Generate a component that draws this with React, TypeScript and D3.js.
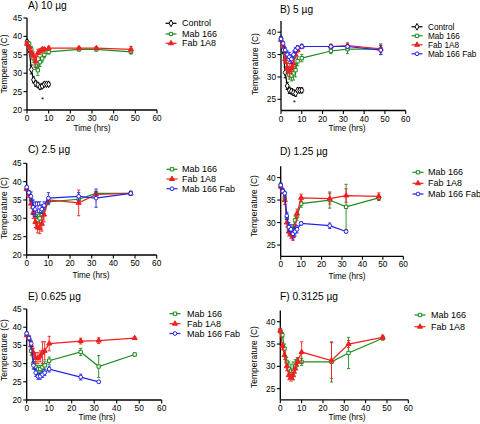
import React from 'react';
import * as d3 from 'd3';

// ---------- data ----------
const times = [0, 1, 2, 3, 4, 5, 6, 7, 8, 10, 24, 32, 48];
const timesTo32 = [0, 1, 2, 3, 4, 5, 6, 7, 8, 10, 24, 32];
const controlTimes = [0, 1, 2, 3, 4, 5, 6, 7, 8, 9, 10];
const xTicks = [0, 10, 20, 30, 40, 50, 60];
const yTicksWide = [20, 25, 30, 35, 40, 45];
const yTicksNarrow = [25, 30, 35, 40];
const panelTitles = ['A) 10 µg', 'B) 5 µg', 'C) 2.5 µg', 'D) 1.25 µg', 'E) 0.625 µg', 'F) 0.3125 µg'];
const seriesNames = ['Control', 'Mab 166', 'Fab 1A8', 'Mab 166 Fab'];

// Panel A
const aControl = [38.5, 36.5, 31, 28.2, 27.2, 26.8, 26.3, 26.5, 27, 27, 27];
const aControlErr = [0.5, 0.8, 1.2, 0.8, 0.7, 0.6, 0.6, 0.5, 0.5, 0.5, 0.5];
const aMab = [38.2, 38, 36.5, 34, 32, 30.8, 33, 34, 35, 35.8, 36.5, 36.5, 35.8];
const aMabErr = [0.4, 0.5, 0.8, 1, 1, 1.4, 1.2, 1, 0.8, 0.6, 0.5, 0.5, 0.6];
const aFab = [38, 37, 35.5, 34.8, 33.2, 35.5, 36, 36.5, 36.5, 36.8, 36.8, 36.8, 36.5];
const aFabErr = [0.4, 0.5, 0.8, 1, 1.5, 1, 0.6, 0.5, 0.5, 0.5, 0.4, 0.4, 0.8];
const aStar = [7.2, 23];

// Panel B
const bControl = [38.5, 36, 31, 28, 27, 26.8, 26.5, 26.3, 27, 27, 27];
const bControlErr = [0.5, 0.8, 1.2, 0.8, 0.7, 0.6, 0.6, 0.6, 0.5, 0.5, 0.5];
const bMab = [38.5, 37, 35, 32, 30.5, 30.3, 30.8, 31.5, 33.5, 34.2, 35.8, 36.2, 36.2];
const bMabErr = [0.4, 0.5, 0.8, 1, 1, 1.2, 1.5, 1.5, 1, 0.8, 0.6, 1, 1.2];
const bFab = [38.3, 37, 34, 32, 31.5, 32, 33, 35, 36, 36.8, 36.8, 37, 36.3];
const bFabErr = [0.4, 0.5, 1, 1.2, 1.5, 1.2, 1, 0.8, 0.6, 0.5, 0.5, 0.6, 0.8];
const bMabFab = [38.5, 37.5, 36, 35, 34.5, 34, 35, 36, 36.5, 36.8, 36.8, 36.8, 36];
const bMabFabErr = [0.4, 0.4, 0.6, 0.8, 1, 1, 0.8, 0.6, 0.5, 0.4, 0.4, 0.5, 1];
const bStar = [6.4, 24.5];

// Panel C
const cMab = [38, 37, 35, 33, 30.5, 29.5, 30, 31, 32.5, 34.5, 35.2, 36.8, 36.8];
const cMabErr = [0.5, 0.5, 1, 1.2, 1.5, 1.5, 1.5, 1.5, 1.2, 0.8, 0.8, 0.6, 0.6];
const cFab = [38, 36.5, 34, 31.5, 29, 27.5, 27.3, 28.5, 31, 35, 34.2, 36.5, 36.8];
const cFabErr = [0.5, 0.8, 1.2, 1.5, 1.5, 1.5, 1.5, 2, 2, 0.8, 3.5, 0.8, 0.5];
const cMabFab = [38.5, 37, 36, 33, 32.5, 33, 33, 32.5, 33.5, 35.5, 36, 35.5, 36.8];
const cMabFabErr = [0.5, 0.5, 1.2, 2, 2, 1.5, 1.5, 1.2, 1, 1.5, 1, 2.5, 0.5];

// Panel D
const dMab = [38.3, 37, 35.5, 31, 28.5, 28, 28.5, 30.5, 31.5, 34.2, 35, 33.5, 35.5];
const dMabErr = [0.5, 0.5, 0.8, 1, 1, 1, 1, 1, 1, 0.8, 1.8, 5, 0.6];
const dFab = [38, 37, 35, 30, 28, 27.5, 27, 28.5, 32, 35.5, 35.3, 36, 35.8];
const dFabErr = [0.5, 0.5, 1, 1, 1, 1, 1, 1, 1, 0.8, 1.2, 1.5, 0.8];
const dMabFab = [38.3, 37, 36.5, 31.5, 29, 28.5, 27.5, 28, 28.5, 29.8, 29.3, 28];
const dMabFabErr = [0.5, 0.5, 0.5, 0.8, 1, 1, 1.2, 1, 0.8, 0.4, 0.6, 0.3];

// Panel E
const eMab = [38, 37, 33.5, 30, 29, 28.5, 28.5, 29, 29.5, 30.8, 33.2, 29.2, 32.5];
const eMabErr = [0.5, 0.8, 1.2, 1.5, 1.5, 1, 1, 1, 1, 1, 1, 3, 0.4];
const eFab = [37.8, 37, 35, 33, 31.5, 31.5, 32, 33, 33.5, 35.5, 36.2, 36.3, 37];
const eFabErr = [0.4, 0.6, 1, 1.2, 1.5, 1.5, 1.5, 3, 2.5, 2, 0.8, 0.8, 0.3];
const eMabFab = [38.3, 37, 35.5, 29.5, 27.5, 26.5, 26.5, 27, 27.5, 28.5, 26.3, 25];
const eMabFabErr = [0.5, 0.5, 0.8, 1, 1, 0.8, 0.8, 0.8, 0.8, 0.8, 0.8, 0.3];

// Panel F
const fMab = [38, 37, 34, 31, 29.5, 29, 29, 30, 31, 31, 31, 33, 36.3];
const fMabErr = [0.5, 0.6, 1, 1, 1.5, 1.5, 2, 1.5, 1, 0.8, 4.5, 3.5, 0.4];
const fFab = [38, 34.5, 32.5, 30, 28, 27.5, 28, 29.5, 31, 33.2, 31.3, 35, 36.5];
const fFabErr = [0.5, 0.8, 1, 1, 1, 0.8, 1, 1, 0.8, 2.3, 4, 0.8, 0.5];

// ---------- styles ----------
const FONT = '"Liberation Sans", Arial, Helvetica, sans-serif';
const styleByName: Record<string, { color: string; shape: any; fill: string; size: number }> = {
  'Control': { color: '#000000', shape: d3.symbolDiamond, fill: '#ffffff', size: 13 },
  'Mab 166': { color: '#1c8a1c', shape: d3.symbolSquare, fill: '#ffffff', size: 11 },
  'Fab 1A8': { color: '#f02020', shape: d3.symbolTriangle, fill: '#f02020', size: 11 },
  'Mab 166 Fab': { color: '#2424e6', shape: d3.symbolCircle, fill: '#ffffff', size: 11 },
};

type Series = { name: string; t: number[]; v: number[]; e: number[] };
type PanelCfg = {
  title: string;
  series: Series[];
  xr: [number, number];
  yd: [number, number];
  yr: [number, number];
  yTicks: number[];
  titleXY: [number, number];
  yTitle: string;
  yTitleXY: [number, number];
  xTitleXY: [number, number];
  legX: number;
  legTX: number;
  legYs: number[];
  legFont: number;
  star?: number[];
};

const panels: PanelCfg[] = [
  {
    title: panelTitles[0],
    series: [
      { name: seriesNames[0], t: controlTimes, v: aControl, e: aControlErr },
      { name: seriesNames[1], t: times, v: aMab, e: aMabErr },
      { name: seriesNames[2], t: times, v: aFab, e: aFabErr },
    ],
    xr: [27, 157], yd: [20, 45], yr: [110, 18], yTicks: yTicksWide,
    titleXY: [28, 9], yTitle: 'Temperatue (C)', yTitleXY: [7, 64], xTitleXY: [92, 131],
    legX: 171, legTX: 182, legYs: [23.3, 34, 43.3], legFont: 9, star: aStar,
  },
  {
    title: panelTitles[1],
    series: [
      { name: seriesNames[0], t: controlTimes, v: bControl, e: bControlErr },
      { name: seriesNames[1], t: times, v: bMab, e: bMabErr },
      { name: seriesNames[2], t: times, v: bFab, e: bFabErr },
      { name: seriesNames[3], t: times, v: bMabFab, e: bMabFabErr },
    ],
    xr: [281, 405.7], yd: [22.5, 42.5], yr: [110.5, 21], yTicks: yTicksNarrow,
    titleXY: [280, 12.5], yTitle: 'Temperature (C)', yTitleXY: [258, 64], xTitleXY: [347, 131],
    legX: 417, legTX: 428, legYs: [26.8, 35.8, 44.8, 53.8], legFont: 8.2, star: bStar,
  },
  {
    title: panelTitles[2],
    series: [
      { name: seriesNames[1], t: times, v: cMab, e: cMabErr },
      { name: seriesNames[2], t: times, v: cFab, e: cFabErr },
      { name: seriesNames[3], t: times, v: cMabFab, e: cMabFabErr },
    ],
    xr: [26.7, 156.7], yd: [20, 45], yr: [255, 163.3], yTicks: yTicksWide,
    titleXY: [28, 152.5], yTitle: 'Temperature (C)', yTitleXY: [7, 208], xTitleXY: [91, 278],
    legX: 172, legTX: 182, legYs: [169.3, 179, 188.7], legFont: 9,
  },
  {
    title: panelTitles[3],
    series: [
      { name: seriesNames[1], t: times, v: dMab, e: dMabErr },
      { name: seriesNames[2], t: times, v: dFab, e: dFabErr },
      { name: seriesNames[3], t: timesTo32, v: dMabFab, e: dMabFabErr },
    ],
    xr: [280.7, 403.3], yd: [22.5, 42.5], yr: [256.3, 166.3], yTicks: yTicksNarrow,
    titleXY: [280, 155], yTitle: 'Temperature (C)', yTitleXY: [257, 206], xTitleXY: [347, 279],
    legX: 418, legTX: 428, legYs: [172.3, 183.3, 194], legFont: 9,
  },
  {
    title: panelTitles[4],
    series: [
      { name: seriesNames[1], t: times, v: eMab, e: eMabErr },
      { name: seriesNames[2], t: times, v: eFab, e: eFabErr },
      { name: seriesNames[3], t: timesTo32, v: eMabFab, e: eMabFabErr },
    ],
    xr: [26.7, 161.7], yd: [20, 45], yr: [400, 309], yTicks: yTicksWide,
    titleXY: [28, 299.5], yTitle: 'Temperature (C)', yTitleXY: [7, 350], xTitleXY: [97, 420],
    legX: 175, legTX: 187, legYs: [313.7, 323.7, 333.5], legFont: 9,
  },
  {
    title: panelTitles[5],
    series: [
      { name: seriesNames[1], t: times, v: fMab, e: fMabErr },
      { name: seriesNames[2], t: times, v: fFab, e: fFabErr },
    ],
    xr: [280.3, 408.3], yd: [22.5, 42.5], yr: [399.8, 310.6], yTicks: yTicksNarrow,
    titleXY: [280, 300], yTitle: 'Temperature (C)', yTitleXY: [257, 357], xTitleXY: [347, 420],
    legX: 420, legTX: 431, legYs: [315, 326.7], legFont: 9,
  },
];

function Marker({ name, x, y }: { name: string; x: number; y: number }) {
  const st = styleByName[name];
  const path = d3.symbol().type(st.shape).size(st.size)() as string;
  return (
    <path d={path} transform={`translate(${x},${y})`} fill={st.fill} stroke={st.color} strokeWidth={1} />
  );
}

function Panel({ cfg }: { cfg: PanelCfg }) {
  const x = d3.scaleLinear().domain([0, 60]).range(cfg.xr);
  const y = d3.scaleLinear().domain(cfg.yd).range(cfg.yr);
  const line = d3.line<[number, number]>().x((d) => x(d[0])).y((d) => y(d[1]));
  const yb = cfg.yr[0];
  const xl = cfg.xr[0];
  return (
    <g>
      <text x={cfg.titleXY[0]} y={cfg.titleXY[1]} fontSize={10.2} fontFamily={FONT}>{cfg.title}</text>
      {/* axes */}
      <line x1={xl} x2={xl} y1={cfg.yr[1]} y2={yb} stroke="#000" strokeWidth={1.3} />
      <line x1={xl} x2={cfg.xr[1]} y1={yb} y2={yb} stroke="#000" strokeWidth={1.3} />
      {cfg.yTicks.map((t) => (
        <g key={'yt' + t}>
          <line x1={xl - 3.5} x2={xl} y1={y(t)} y2={y(t)} stroke="#000" strokeWidth={1.1} />
          <text x={xl - 5} y={y(t) + 3} fontSize={8.3} textAnchor="end" fontFamily={FONT}>{t}</text>
        </g>
      ))}
      {xTicks.map((t) => (
        <g key={'xt' + t}>
          <line x1={x(t)} x2={x(t)} y1={yb} y2={yb + 3.5} stroke="#000" strokeWidth={1.1} />
          <text x={x(t)} y={yb + 11} fontSize={8.3} textAnchor="middle" fontFamily={FONT}>{t}</text>
        </g>
      ))}
      <text x={cfg.xTitleXY[0]} y={cfg.xTitleXY[1]} fontSize={8.2} textAnchor="middle" fontFamily={FONT}>Time (hrs)</text>
      <text transform={`translate(${cfg.yTitleXY[0]},${cfg.yTitleXY[1]}) rotate(-90)`} fontSize={8.5} textAnchor="middle" fontFamily={FONT}>{cfg.yTitle}</text>
      {/* series */}
      {cfg.series.map((s) => {
        const st = styleByName[s.name];
        const pts: [number, number][] = s.t.map((t, i) => [t, s.v[i]]);
        return (
          <g key={s.name}>
            {pts.map((p, i) => {
              const hi = y(p[1] + s.e[i]);
              const lo = y(p[1] - s.e[i]);
              const cx = x(p[0]);
              return (
                <g key={i} stroke={st.color} strokeWidth={0.9}>
                  <line x1={cx} x2={cx} y1={hi} y2={lo} />
                  <line x1={cx - 1.6} x2={cx + 1.6} y1={hi} y2={hi} />
                  <line x1={cx - 1.6} x2={cx + 1.6} y1={lo} y2={lo} />
                </g>
              );
            })}
            <path d={line(pts) as string} fill="none" stroke={st.color} strokeWidth={1.2} />
            {pts.map((p, i) => (
              <Marker key={'m' + i} name={s.name} x={x(p[0])} y={y(p[1])} />
            ))}
          </g>
        );
      })}
      {cfg.star && (
        <text x={x(cfg.star[0])} y={y(cfg.star[1]) + 3} fontSize={8} textAnchor="middle" fontFamily={FONT}>*</text>
      )}
      {/* legend */}
      {cfg.series.map((s, i) => {
        const st = styleByName[s.name];
        const ly = cfg.legYs[i];
        return (
          <g key={'lg' + s.name}>
            <line x1={cfg.legX - 5.5} x2={cfg.legX + 5.5} y1={ly} y2={ly} stroke={st.color} strokeWidth={1.2} />
            <Marker name={s.name} x={cfg.legX} y={ly} />
            <text x={cfg.legTX} y={ly + 3} fontSize={cfg.legFont} fontFamily={FONT}>{s.name}</text>
          </g>
        );
      })}
    </g>
  );
}

export default function App() {
  return (
    <svg width={480} height={424} style={{ position: 'absolute', left: 0, top: 0, background: '#fff' }}>
      <rect width={480} height={424} fill="#fff" />
      {panels.map((p) => (
        <Panel key={p.title} cfg={p} />
      ))}
    </svg>
  );
}
